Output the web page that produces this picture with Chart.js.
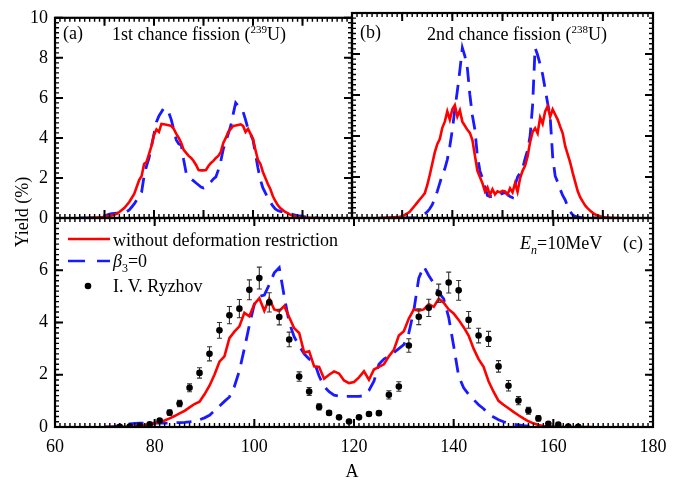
<!DOCTYPE html>
<html><head><meta charset="utf-8">
<script src="https://cdn.jsdelivr.net/npm/chart.js@4.4.0/dist/chart.umd.min.js"></script>
<style>
html,body{margin:0;padding:0;background:#fff;}
#wrap{position:relative;width:694px;height:484px;overflow:hidden;font-family:"Liberation Serif","Times New Roman",serif;color:#000;background:#fff;}
canvas{position:absolute;left:0;top:0;}
.t{position:absolute;font-size:18px;line-height:18px;white-space:nowrap;}
.t sup{font-size:11px;vertical-align:baseline;position:relative;top:-7px;line-height:0;}
.t sub{font-size:12px;vertical-align:baseline;position:relative;top:5px;line-height:0;}
</style></head>
<body><div id="wrap">
<canvas id="ca" width="694" height="484"></canvas>
<canvas id="cb" width="694" height="484"></canvas>
<canvas id="cc" width="694" height="484"></canvas>
<div class="t" style="left:63px;top:24px">(a)</div>
<div class="t" style="left:112px;top:25px">1st chance fission (<sup>239</sup>U)</div>
<div class="t" style="left:360px;top:23px">(b)</div>
<div class="t" style="left:427px;top:25px">2nd chance fission (<sup>238</sup>U)</div>
<div class="t" style="left:623px;top:234px">(c)</div>
<div class="t" style="left:520px;top:234px"><i>E</i><sub><i>n</i></sub>=10MeV</div>
<div class="t" style="left:113px;top:231px">without deformation restriction</div>
<div class="t" style="left:113px;top:252px"><i>β</i><sub>3</sub>=0</div>
<div class="t" style="left:113px;top:277px">I. V. Ryzhov</div>
<div class="t" style="left:-28px;top:203px;width:100px;text-align:center;transform:rotate(-90deg);">Yield (%)</div>
<div class="t" style="left:342px;top:462px;width:20px;text-align:center;">A</div>
</div>
<script>
// ---- data ----
const massNumbers = Array.from({length: 101}, (_, i) => 70 + i); // A = 70 ... 170
const xTickLabels = [60, 80, 100, 120, 140, 160, 180];
const yTicksTop = [0, 2, 4, 6, 8, 10];
const yTicksBottom = [0, 2, 4, 6];

// (a) 1st chance fission (239U)
const redA = [
  null,null,null,null,0.01,0.01,0.02,0.02,0.03,0.04,
  0.06,0.08,0.1,0.13,0.16,0.22,0.3,0.4,0.5,0.65,
  0.8,1.0,1.2,1.55,1.9,2.1,2.7,2.8,3.2,3.6,
  4.15,4.42,4.3,4.7,4.68,4.66,4.63,4.6,4.45,4.2,
  4.0,3.75,3.4,3.25,3.1,3.0,2.85,2.65,2.4,2.38,
  2.38,2.4,2.6,2.75,2.85,3.0,3.1,3.3,3.75,4.0,
  4.3,4.45,4.6,4.62,4.65,4.68,4.6,4.3,4.45,4.2,
  3.95,3.4,2.9,2.7,2.3,2.0,1.7,1.45,1.1,0.85,
  0.65,0.5,0.4,0.3,0.24,0.17,0.12,0.08,0.05,0.03,
  0.02,0.015,0.01,0.005,0,0,0,0,0,null,
  null];
const blueA = [
  0,0,0,0,0,0.01,0.02,0.03,0.05,0.07,
  0.1,0.15,0.2,0.22,0.23,0.24,0.25,0.26,0.28,0.32,
  0.4,0.55,0.7,0.9,1.1,1.3,2.1,2.6,3.0,3.6,
  4.2,4.8,5.1,5.3,5.5,5.4,5.25,4.9,4.4,3.9,
  3.7,3.65,2.9,2.25,2.1,1.95,1.85,1.75,1.65,1.55,
  1.5,1.55,1.65,1.8,1.95,2.05,2.4,2.85,3.45,3.8,
  4.2,4.6,5.2,5.75,5.6,5.45,5.3,4.9,4.45,4.2,
  3.9,3.2,2.5,1.9,1.5,1.25,1.0,0.8,0.6,0.45,
  0.37,0.33,0.3,0.28,0.25,0.22,0.18,0.15,0.12,0.1,
  0.08,0.06,0.04,0.02,0.01,0,0,null,null,null,
  null];

// (b) 2nd chance fission (238U)
const redB = [
  0,0,0.01,0.01,0.02,0.02,0.03,0.04,0.05,0.06,
  0.08,0.15,0.22,0.3,0.45,0.6,0.75,0.9,1.05,1.2,
  1.6,2.1,2.65,3.2,3.6,3.85,4.4,4.7,5.2,4.8,
  5.3,5.5,4.95,5.25,4.7,4.5,4.3,4.15,3.8,3.05,
  2.3,2.0,1.7,1.3,1.5,1.12,1.4,1.15,1.3,1.25,
  1.32,1.3,1.15,1.45,1.25,1.69,1.28,1.93,2.3,2.55,
  3.0,3.7,4.2,4.38,4.13,4.9,4.6,5.2,5.45,4.94,
  5.3,5.05,4.8,4.45,4.13,3.5,3.1,2.7,2.2,1.75,
  1.3,1.0,0.8,0.6,0.47,0.35,0.25,0.17,0.12,0.08,
  0.05,0.03,0.02,0.01,0.01,0,0,0,null,null,
  null];
const blueB = [
  null,null,null,null,null,null,null,null,null,null,
  0,0,0,0,0,0,0,0.02,0.1,0.2,
  0.3,0.45,0.65,0.95,1.3,1.7,2.1,2.4,2.85,3.5,
  4.3,5.3,6.2,7.2,8.3,7.9,7.3,6.0,5.0,4.3,
  3.0,2.3,1.95,1.5,1.1,1.05,1.05,1.08,1.1,1.15,
  1.2,1.25,1.15,1.05,1.0,1.6,2.0,2.2,2.4,2.9,
  3.3,4.0,5.5,8.3,7.95,7.5,7.0,6.3,5.6,4.95,
  3.0,2.05,1.75,1.4,1.1,0.88,0.55,0.3,0.15,0.08,
  0.05,0.03,0.02,0.01,0,0,0,0,0,0,
  0,null,null,null,null,null,null,null,null,null,
  null];

// (c) En = 10 MeV total
const redC = [
  0,0,0,0.01,0.01,0.02,0.03,0.05,0.08,0.12,
  0.15,0.2,0.25,0.33,0.42,0.52,0.62,0.75,0.88,0.97,
  1.25,1.58,2.0,2.5,2.7,3.4,3.65,3.85,4.37,4.24,
  4.7,4.93,4.45,4.91,4.5,4.44,4.63,4.2,3.78,3.6,
  2.85,2.9,2.32,2.3,1.85,2.0,2.13,2.05,1.78,1.68,
  1.72,1.9,2.13,1.81,2.2,2.3,2.4,2.71,2.95,3.5,
  3.67,4.15,4.5,4.45,4.5,4.7,4.6,4.91,4.76,4.5,
  4.35,4.1,3.82,3.5,3.0,2.6,2.3,1.75,1.35,1.0,
  0.85,0.72,0.58,0.45,0.33,0.22,0.14,0.08,0.04,0.02,
  0.01,0.01,0,0,0,0,0,0,0,null,
  null];
const blueC = [
  0,0,0.02,0.05,0.08,0.12,0.14,0.15,0.15,0.15,
  0.15,0.15,0.15,0.15,0.16,0.17,0.18,0.2,0.22,0.28,
  0.35,0.45,0.62,0.8,0.98,1.15,1.55,2.15,3.0,3.9,
  4.7,5.0,5.05,5.45,5.9,6.1,5.0,4.0,3.45,3.1,
  2.8,2.6,2.5,1.95,1.55,1.35,1.22,1.18,1.17,1.17,
  1.17,1.17,1.2,1.4,1.75,2.4,2.6,2.7,2.85,3.0,
  3.15,3.6,4.45,5.7,6.15,5.8,5.5,5.15,4.9,4.2,
  3.1,1.95,1.5,1.25,1.05,0.85,0.7,0.5,0.38,0.28,
  0.2,0.15,0.1,0.08,0.05,0.03,0.02,0.01,0,0,
  0,0,0,null,null,null,null,null,null,null,
  null];

// I. V. Ryzhov experimental points
const expA = [73,75,77,79,81,83,85,87,89,91,93,95,97,99,101,103,105,107,109,111,113,115,117,119,121,123,125,127,129,131,133,135,137,139,141,143,145,147,149,151,153,155,157,159,161,163,165];
const expY = [0.01,0.02,0.05,0.1,0.25,0.55,0.9,1.5,2.07,2.8,3.7,4.28,4.53,5.25,5.7,4.77,4.21,3.35,1.93,1.36,0.77,0.54,0.37,0.21,0.37,0.5,0.53,1.23,1.55,3.12,4.22,4.56,5.12,5.53,5.23,4.1,3.5,3.37,2.32,1.58,1.01,0.62,0.33,0.12,0.09,0.02,0.01];
const expErr = [0,0,0.05,0.05,0.06,0.1,0.12,0.15,0.2,0.27,0.3,0.33,0.35,0.38,0.42,0.37,0.3,0.28,0.18,0.15,0.12,0.08,0.06,0.05,0.06,0.07,0.08,0.16,0.18,0.26,0.3,0.33,0.35,0.4,0.38,0.32,0.28,0.29,0.22,0.2,0.16,0.13,0.1,0.05,0.04,0.02,0.02];

// ---- rendering ----
const FONT = '"Liberation Serif", "Times New Roman", serif';
const RED = '#ff0000', BLUE = '#1a1aff';
const pts = arr => massNumbers.map((a, i) => ({x: a, y: arr[i]}));

const frameTicks = {
  id: 'frameTicks',
  afterDraw(chart, args, o) {
    const {ctx, chartArea: ca, scales: {x, y}} = chart;
    ctx.save();
    ctx.strokeStyle = '#000';
    const xT = (v, len) => { const p = x.getPixelForValue(v);
      ctx.moveTo(p, ca.bottom); ctx.lineTo(p, ca.bottom - len);
      ctx.moveTo(p, ca.top); ctx.lineTo(p, ca.top + len); };
    const yT = (v, len) => { const p = y.getPixelForValue(v);
      ctx.moveTo(ca.left, p); ctx.lineTo(ca.left + len, p);
      ctx.moveTo(ca.right, p); ctx.lineTo(ca.right - len, p); };
    ctx.beginPath(); ctx.lineWidth = 1.4;
    for (let i = 0; ; i++) { const v = x.min + i * o.xMinor; if (v > x.max + 1e-9) break; xT(v, 4); }
    for (let i = 0; ; i++) { const v = y.min + i * o.yMinor; if (v > y.max + 1e-9) break; yT(v, 4); }
    ctx.stroke();
    ctx.beginPath(); ctx.lineWidth = 2;
    xTickLabels.forEach(v => xT(v, 8));
    for (let v = y.min; v <= y.max + 1e-9; v += 2) yT(v, 8);
    ctx.stroke();
    ctx.lineWidth = 2.2;
    ctx.strokeRect(ca.left, ca.top, ca.right - ca.left, ca.bottom - ca.top);
    if (o.legend) {
      ctx.lineWidth = 2.6;
      ctx.strokeStyle = RED; ctx.beginPath(); ctx.moveTo(68, 239); ctx.lineTo(110, 239); ctx.stroke();
      ctx.strokeStyle = BLUE; ctx.setLineDash([17, 12]); ctx.beginPath(); ctx.moveTo(68, 261); ctx.lineTo(110, 261); ctx.stroke();
      ctx.setLineDash([]);
      ctx.fillStyle = '#000'; ctx.beginPath(); ctx.arc(88, 286, 3.3, 0, Math.PI * 2); ctx.fill();
    }
    ctx.restore();
  }
};

const errorBars = {
  id: 'errorBars',
  beforeDatasetDraw(chart, args) {
    if (args.index !== 0 || chart.canvas.id !== 'cc') return;
    const {ctx, scales: {x, y}} = chart;
    ctx.save(); ctx.strokeStyle = '#333'; ctx.lineWidth = 1.1; ctx.beginPath();
    expA.forEach((a, i) => {
      const e = expErr[i]; if (!e) return;
      const px = x.getPixelForValue(a);
      const t = y.getPixelForValue(expY[i] + e), b = y.getPixelForValue(expY[i] - e);
      ctx.moveTo(px, t); ctx.lineTo(px, b);
      ctx.moveTo(px - 2.5, t); ctx.lineTo(px + 2.5, t);
      ctx.moveTo(px - 2.5, b); ctx.lineTo(px + 2.5, b);
    });
    ctx.stroke(); ctx.restore();
  }
};

const lineDs = (data, color, dashed) => ({
  type: 'line', data: pts(data), borderColor: color, backgroundColor: color,
  borderWidth: dashed ? 2.8 : 2.6, borderDash: dashed ? [15, 9] : [],
  pointRadius: 0, tension: 0, fill: false, spanGaps: false
});

const tickFont = {family: FONT, size: 18};
function yScale(max, ticks, show) {
  return {
    type: 'linear', min: 0, max: max, display: show,
    afterBuildTicks: s => { s.ticks = ticks.map(v => ({value: v})); },
    afterFit: s => { if (show) s.width = 55; },
    grid: {display: false, drawTicks: false}, border: {display: false},
    ticks: {font: tickFont, color: '#000', padding: 7}
  };
}

function make(id, datasets, pad, yMax, yTicks, showY, showX, xMinor, yMinor, legend) {
  return new Chart(document.getElementById(id), {
    type: 'line',
    data: {datasets},
    options: {
      responsive: false, animation: false, devicePixelRatio: 1,
      layout: {padding: pad},
      plugins: {legend: {display: false}, tooltip: {enabled: false},
        frameTicks: {xMinor, yMinor, legend}},
      scales: {
        x: {type: 'linear', min: 60, max: 180, display: showX,
          afterBuildTicks: s => { s.ticks = xTickLabels.map(v => ({value: v})); },
          afterFit: s => { if (showX) s.height = 57; },
          grid: {display: false, drawTicks: false}, border: {display: false},
          ticks: {font: tickFont, color: '#000', padding: 9, maxRotation: 0}},
        y: yScale(yMax, yTicks, showY)
      }
    },
    plugins: [frameTicks, errorBars]
  });
}

make('ca', [lineDs(redA, RED, false), lineDs(blueA, BLUE, true)],
  {left: 0, right: 342, top: 13, bottom: 266}, 10, yTicksTop, true, false, 2, 0.25, false);
make('cb', [lineDs(redB, RED, false), lineDs(blueB, BLUE, true)],
  {left: 352, right: 41, top: 13, bottom: 266}, 10, yTicksTop, false, false, 2, 0.25, false);
make('cc', [
  {type: 'scatter', data: expA.map((a, i) => ({x: a, y: expY[i]})), pointRadius: 3.3,
   pointBackgroundColor: '#000', pointBorderWidth: 0, showLine: false},
  lineDs(redC, RED, false), lineDs(blueC, BLUE, true)],
  {left: 0, right: 41, top: 218, bottom: 0}, 8, yTicksBottom, true, true, 1, 0.2, true);
</script>
</body></html>
